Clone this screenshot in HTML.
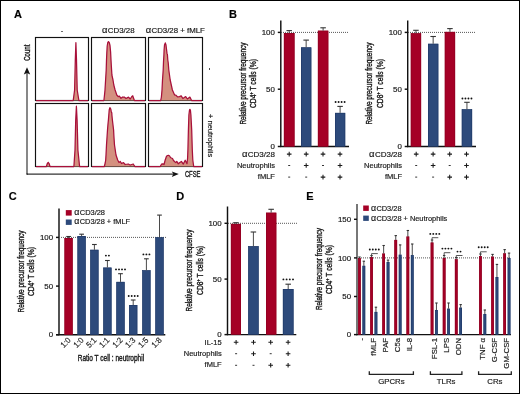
<!DOCTYPE html>
<html><head><meta charset="utf-8"><style>
html,body{margin:0;padding:0;background:#fff;}
svg{display:block;will-change:transform;}
text:not([stroke]){stroke:#1a1a1a;stroke-width:0.18px;}
</style></head><body>
<svg width="520" height="394" viewBox="0 0 520 394" font-family="'Liberation Sans', sans-serif">
<rect x="0" y="0" width="520" height="394" fill="#fff"/>
<rect x="0.5" y="0.5" width="519" height="393" fill="none" stroke="#000" stroke-width="1"/>
<text x="14" y="18.2" font-size="11" text-anchor="start" font-weight="bold" fill="#000" >A</text>
<text x="229" y="18.2" font-size="11" text-anchor="start" font-weight="bold" fill="#000" >B</text>
<text x="8.7" y="200.2" font-size="11" text-anchor="start" font-weight="bold" fill="#000" >C</text>
<text x="176.2" y="200.2" font-size="11" text-anchor="start" font-weight="bold" fill="#000" >D</text>
<text x="306.3" y="200.2" font-size="11" text-anchor="start" font-weight="bold" fill="#000" >E</text>
<rect x="35.5" y="37.5" width="53.00" height="63.00" fill="#fff" stroke="#111" stroke-width="1.15"/>
<path d="M73.20,100.50 L74.60,90.00 L75.30,60.00 L75.90,42.70 L76.50,60.00 L77.20,90.00 L78.90,100.50 Z" fill="#d4907f" stroke="none"/>
<path d="M36.10,100.50 L73.20,100.50 L74.60,90.00 L75.30,60.00 L75.90,42.70 L76.50,60.00 L77.20,90.00 L78.90,100.50 L87.90,100.50" fill="none" stroke="#a8103a" stroke-width="1.25" stroke-linejoin="round"/>
<rect x="91.5" y="37.5" width="54.00" height="63.00" fill="#fff" stroke="#111" stroke-width="1.15"/>
<path d="M103.90,100.50 L104.60,94.00 L105.00,90.00 L105.60,80.00 L106.20,70.00 L106.50,60.00 L106.80,53.00 L107.20,46.00 L107.80,42.50 L108.50,41.60 L109.30,42.60 L110.00,45.50 L110.60,52.00 L111.00,60.00 L111.40,67.00 L111.90,75.00 L113.00,80.00 L113.80,85.00 L115.10,90.00 L116.80,95.00 L118.20,96.60 L119.40,96.20 L121.00,98.30 L122.60,97.00 L124.30,97.10 L126.00,98.50 L128.50,97.10 L130.20,99.00 L131.50,97.00 L132.70,95.80 L134.40,100.50 Z" fill="#d4907f" stroke="none"/>
<path d="M92.10,100.50 L103.90,100.50 L104.60,94.00 L105.00,90.00 L105.60,80.00 L106.20,70.00 L106.50,60.00 L106.80,53.00 L107.20,46.00 L107.80,42.50 L108.50,41.60 L109.30,42.60 L110.00,45.50 L110.60,52.00 L111.00,60.00 L111.40,67.00 L111.90,75.00 L113.00,80.00 L113.80,85.00 L115.10,90.00 L116.80,95.00 L118.20,96.60 L119.40,96.20 L121.00,98.30 L122.60,97.00 L124.30,97.10 L126.00,98.50 L128.50,97.10 L130.20,99.00 L131.50,97.00 L132.70,95.80 L134.40,100.50 L144.90,100.50" fill="none" stroke="#a8103a" stroke-width="1.25" stroke-linejoin="round"/>
<rect x="148.5" y="37.5" width="54.00" height="63.00" fill="#fff" stroke="#111" stroke-width="1.15"/>
<path d="M160.70,100.50 L161.40,97.00 L162.00,90.00 L162.50,80.00 L163.20,70.00 L163.50,62.00 L163.90,55.00 L164.10,50.00 L164.50,45.00 L165.30,42.90 L166.00,45.00 L166.60,50.00 L167.00,53.40 L167.40,54.50 L167.80,60.00 L168.20,62.50 L168.80,70.00 L170.20,80.00 L172.40,90.00 L174.60,95.00 L175.90,95.20 L177.60,96.90 L179.50,96.60 L181.20,95.80 L182.90,98.50 L185.70,96.60 L187.40,99.00 L189.90,97.10 L191.60,100.50 Z" fill="#d4907f" stroke="none"/>
<path d="M149.10,100.50 L160.70,100.50 L161.40,97.00 L162.00,90.00 L162.50,80.00 L163.20,70.00 L163.50,62.00 L163.90,55.00 L164.10,50.00 L164.50,45.00 L165.30,42.90 L166.00,45.00 L166.60,50.00 L167.00,53.40 L167.40,54.50 L167.80,60.00 L168.20,62.50 L168.80,70.00 L170.20,80.00 L172.40,90.00 L174.60,95.00 L175.90,95.20 L177.60,96.90 L179.50,96.60 L181.20,95.80 L182.90,98.50 L185.70,96.60 L187.40,99.00 L189.90,97.10 L191.60,100.50 L201.90,100.50" fill="none" stroke="#a8103a" stroke-width="1.25" stroke-linejoin="round"/>
<rect x="35.5" y="103.5" width="53.00" height="63.00" fill="#fff" stroke="#111" stroke-width="1.15"/>
<path d="M46.40,166.50 L47.30,163.50 L48.20,162.30 L49.10,163.50 L50.00,166.50 L73.90,166.50 L75.00,150.00 L75.70,120.00 L76.40,106.20 L77.10,120.00 L77.90,150.00 L79.60,166.50 Z" fill="#d4907f" stroke="none"/>
<path d="M36.10,166.50 L46.40,166.50 L47.30,163.50 L48.20,162.30 L49.10,163.50 L50.00,166.50 L73.90,166.50 L75.00,150.00 L75.70,120.00 L76.40,106.20 L77.10,120.00 L77.90,150.00 L79.60,166.50 L87.90,166.50" fill="none" stroke="#a8103a" stroke-width="1.25" stroke-linejoin="round"/>
<rect x="91.5" y="103.5" width="54.00" height="63.00" fill="#fff" stroke="#111" stroke-width="1.15"/>
<path d="M104.30,166.50 L105.20,163.00 L105.70,160.00 L106.00,155.00 L106.50,145.00 L107.10,136.00 L107.50,130.00 L107.90,125.00 L108.40,120.00 L108.80,115.00 L109.20,110.00 L109.90,107.60 L110.80,109.00 L111.30,112.00 L111.80,112.90 L111.90,115.00 L112.40,120.00 L113.00,125.00 L113.60,130.00 L113.90,136.00 L114.50,145.00 L116.00,155.00 L117.70,160.00 L119.00,162.50 L120.30,161.50 L121.50,163.50 L123.50,162.60 L125.20,164.50 L128.20,164.00 L130.20,165.00 L133.20,164.00 L134.90,166.50 Z" fill="#d4907f" stroke="none"/>
<path d="M92.10,166.50 L104.30,166.50 L105.20,163.00 L105.70,160.00 L106.00,155.00 L106.50,145.00 L107.10,136.00 L107.50,130.00 L107.90,125.00 L108.40,120.00 L108.80,115.00 L109.20,110.00 L109.90,107.60 L110.80,109.00 L111.30,112.00 L111.80,112.90 L111.90,115.00 L112.40,120.00 L113.00,125.00 L113.60,130.00 L113.90,136.00 L114.50,145.00 L116.00,155.00 L117.70,160.00 L119.00,162.50 L120.30,161.50 L121.50,163.50 L123.50,162.60 L125.20,164.50 L128.20,164.00 L130.20,165.00 L133.20,164.00 L134.90,166.50 L144.90,166.50" fill="none" stroke="#a8103a" stroke-width="1.25" stroke-linejoin="round"/>
<rect x="148.5" y="103.5" width="54.00" height="63.00" fill="#fff" stroke="#111" stroke-width="1.15"/>
<path d="M160.20,166.50 L161.50,164.20 L162.80,163.80 L164.00,164.50 L165.20,160.00 L166.50,156.20 L167.50,155.50 L168.50,155.30 L169.60,156.00 L170.50,157.50 L171.40,158.00 L172.50,158.50 L173.50,160.50 L174.80,161.80 L175.80,162.60 L176.80,161.40 L178.30,163.80 L179.80,162.50 L181.40,161.40 L183.30,164.10 L185.20,160.20 L187.00,163.70 L187.60,158.00 L187.90,150.00 L188.40,130.00 L188.90,115.00 L189.50,110.00 L189.90,109.30 L190.40,110.00 L190.90,115.00 L191.70,130.00 L192.30,150.00 L192.80,160.00 L193.70,166.50 Z" fill="#d4907f" stroke="none"/>
<path d="M149.10,166.50 L160.20,166.50 L161.50,164.20 L162.80,163.80 L164.00,164.50 L165.20,160.00 L166.50,156.20 L167.50,155.50 L168.50,155.30 L169.60,156.00 L170.50,157.50 L171.40,158.00 L172.50,158.50 L173.50,160.50 L174.80,161.80 L175.80,162.60 L176.80,161.40 L178.30,163.80 L179.80,162.50 L181.40,161.40 L183.30,164.10 L185.20,160.20 L187.00,163.70 L187.60,158.00 L187.90,150.00 L188.40,130.00 L188.90,115.00 L189.50,110.00 L189.90,109.30 L190.40,110.00 L190.90,115.00 L191.70,130.00 L192.30,150.00 L192.80,160.00 L193.70,166.50 L201.90,166.50" fill="none" stroke="#a8103a" stroke-width="1.25" stroke-linejoin="round"/>
<text x="62" y="32.5" font-size="7.5" text-anchor="middle" font-weight="normal" fill="#1a1a1a" >-</text>
<text x="118.3" y="33" font-size="7.9" text-anchor="middle" fill="#1a1a1a"><tspan font-size="9.48">&#945;</tspan><tspan dx="0.3">CD3/28</tspan></text>
<text x="175.3" y="33" font-size="7.85" text-anchor="middle" fill="#1a1a1a"><tspan font-size="9.42">&#945;</tspan><tspan dx="0.3">CD3/28 + fMLF</tspan></text>
<text transform="translate(207.6,69) rotate(90)" x="0" y="0" font-size="7.5" text-anchor="middle" font-weight="normal" fill="#1a1a1a">-</text>
<text transform="translate(207.6,135.6) rotate(90)" x="0" y="0" font-size="7.5" text-anchor="middle" font-weight="normal" fill="#1a1a1a">+ neutrophils</text>
<line x1="27" y1="174.1" x2="27" y2="73" stroke="#555" stroke-width="1.4" />
<path d="M27,67.2 L30.2,74.5 L27,73 L23.8,74.5 Z" fill="#111"/>
<line x1="27" y1="174.1" x2="173" y2="174.1" stroke="#333" stroke-width="1.4" />
<path d="M178.8,174.1 L171.8,171.4 L173.3,174.1 L171.8,176.9 Z" fill="#111"/>
<line x1="26.3" y1="174.1" x2="28" y2="174.1" stroke="#333" stroke-width="1.4" />
<text transform="translate(30.0,52.7) rotate(-90)" font-size="9" text-anchor="middle" fill="#1a1a1a" stroke="#1a1a1a" stroke-width="0.38" textLength="16.2" lengthAdjust="spacingAndGlyphs">Count</text>
<text x="184.9" y="176.6" font-size="9" textLength="15.6" lengthAdjust="spacingAndGlyphs" fill="#1a1a1a" stroke="#1a1a1a" stroke-width="0.38">CFSE</text>
<line x1="280.8" y1="20.5" x2="280.8" y2="147.1" stroke="#111" stroke-width="1.45" />
<line x1="280.2" y1="146.5" x2="349.0" y2="146.5" stroke="#111" stroke-width="1.45" />
<line x1="277.8" y1="32.4" x2="280.8" y2="32.4" stroke="#111" stroke-width="1.45" />
<text x="274.90000000000003" y="35.199999999999996" font-size="7.9" text-anchor="end" font-weight="normal" fill="#1a1a1a" >100</text>
<line x1="277.8" y1="89.2" x2="280.8" y2="89.2" stroke="#111" stroke-width="1.45" />
<text x="274.90000000000003" y="92.0" font-size="7.9" text-anchor="end" font-weight="normal" fill="#1a1a1a" >50</text>
<line x1="277.8" y1="146.5" x2="280.8" y2="146.5" stroke="#111" stroke-width="1.45" />
<text x="274.90000000000003" y="149.10000000000002" font-size="7.9" text-anchor="end" font-weight="normal" fill="#1a1a1a" >0</text>
<line x1="281" y1="32.4" x2="349.0" y2="32.4" stroke="#444" stroke-width="0.9" stroke-dasharray="1 1"/>
<rect x="283.90" y="33.00" width="10.60" height="113.50" fill="#a50026" stroke="none" stroke-width="0"/>
<rect x="284.20" y="33.30" width="10.00" height="113.20" fill="none" stroke="#8c0020" stroke-width="0.6"/>
<line x1="289.2" y1="33.0" x2="289.2" y2="30.6" stroke="#4a4a4a" stroke-width="1.0" />
<line x1="286.45" y1="30.6" x2="291.95" y2="30.6" stroke="#333" stroke-width="1.1" />
<rect x="301.00" y="47.40" width="10.30" height="99.10" fill="#2d4a7b" stroke="none" stroke-width="0"/>
<rect x="301.30" y="47.70" width="9.70" height="98.80" fill="none" stroke="#1e3866" stroke-width="0.6"/>
<line x1="306.15" y1="47.4" x2="306.15" y2="40.1" stroke="#4a4a4a" stroke-width="1.0" />
<line x1="303.4" y1="40.1" x2="308.9" y2="40.1" stroke="#333" stroke-width="1.1" />
<rect x="317.90" y="30.70" width="10.40" height="115.80" fill="#a50026" stroke="none" stroke-width="0"/>
<rect x="318.20" y="31.00" width="9.80" height="115.50" fill="none" stroke="#8c0020" stroke-width="0.6"/>
<line x1="323.1" y1="30.7" x2="323.1" y2="27.8" stroke="#4a4a4a" stroke-width="1.0" />
<line x1="320.35" y1="27.8" x2="325.85" y2="27.8" stroke="#333" stroke-width="1.1" />
<rect x="335.00" y="112.90" width="10.20" height="33.60" fill="#2d4a7b" stroke="none" stroke-width="0"/>
<rect x="335.30" y="113.20" width="9.60" height="33.30" fill="none" stroke="#1e3866" stroke-width="0.6"/>
<line x1="340.1" y1="112.9" x2="340.1" y2="106.4" stroke="#4a4a4a" stroke-width="1.0" />
<line x1="337.35" y1="106.4" x2="342.85" y2="106.4" stroke="#333" stroke-width="1.1" />
<circle cx="335.60" cy="102.0" r="0.95" fill="#111"/>
<circle cx="338.60" cy="102.0" r="0.95" fill="#111"/>
<circle cx="341.60" cy="102.0" r="0.95" fill="#111"/>
<circle cx="344.60" cy="102.0" r="0.95" fill="#111"/>
<text transform="translate(245.7,83.6) rotate(-90)" font-size="8.6" text-anchor="middle" fill="#1a1a1a" stroke="#1a1a1a" stroke-width="0.38" textLength="82" lengthAdjust="spacingAndGlyphs">Relative precursor frequency</text>
<text transform="translate(256.0,83.5) rotate(-90)" font-size="8.6" text-anchor="middle" fill="#1a1a1a" stroke="#1a1a1a" stroke-width="0.38" textLength="49" lengthAdjust="spacingAndGlyphs">CD4<tspan font-size="5" dy="-3">+</tspan><tspan dy="3"> T cells (%)</tspan></text>
<text x="274.9" y="156.8" font-size="8.0" text-anchor="end" fill="#1a1a1a"><tspan font-size="9.60">&#945;</tspan><tspan dx="0.3">CD3/28</tspan></text>
<text x="274.9" y="167.6" font-size="7.5" text-anchor="end" font-weight="normal" fill="#1a1a1a" >Neutrophils</text>
<text x="274.9" y="179.0" font-size="7.5" text-anchor="end" font-weight="normal" fill="#1a1a1a" >fMLF</text>
<path d="M286.90,154.10 H291.50 M289.20,151.80 V156.40" stroke="#1a1a1a" stroke-width="1.05" fill="none"/>
<path d="M303.90,154.10 H308.50 M306.20,151.80 V156.40" stroke="#1a1a1a" stroke-width="1.05" fill="none"/>
<path d="M320.70,154.10 H325.30 M323.00,151.80 V156.40" stroke="#1a1a1a" stroke-width="1.05" fill="none"/>
<path d="M337.70,154.10 H342.30 M340.00,151.80 V156.40" stroke="#1a1a1a" stroke-width="1.05" fill="none"/>
<path d="M288.20,165.50 H290.20" stroke="#2a2a2a" stroke-width="0.95" fill="none"/>
<path d="M303.90,165.50 H308.50 M306.20,163.20 V167.80" stroke="#1a1a1a" stroke-width="1.05" fill="none"/>
<path d="M322.00,165.50 H324.00" stroke="#2a2a2a" stroke-width="0.95" fill="none"/>
<path d="M337.70,165.50 H342.30 M340.00,163.20 V167.80" stroke="#1a1a1a" stroke-width="1.05" fill="none"/>
<path d="M288.20,177.10 H290.20" stroke="#2a2a2a" stroke-width="0.95" fill="none"/>
<path d="M305.20,177.10 H307.20" stroke="#2a2a2a" stroke-width="0.95" fill="none"/>
<path d="M320.70,177.10 H325.30 M323.00,174.80 V179.40" stroke="#1a1a1a" stroke-width="1.05" fill="none"/>
<path d="M337.70,177.10 H342.30 M340.00,174.80 V179.40" stroke="#1a1a1a" stroke-width="1.05" fill="none"/>
<line x1="407.7" y1="20.5" x2="407.7" y2="147.1" stroke="#111" stroke-width="1.45" />
<line x1="407.09999999999997" y1="146.5" x2="476.0" y2="146.5" stroke="#111" stroke-width="1.45" />
<line x1="404.7" y1="32.4" x2="407.7" y2="32.4" stroke="#111" stroke-width="1.45" />
<text x="401.8" y="35.199999999999996" font-size="7.9" text-anchor="end" font-weight="normal" fill="#1a1a1a" >100</text>
<line x1="404.7" y1="89.2" x2="407.7" y2="89.2" stroke="#111" stroke-width="1.45" />
<text x="401.8" y="92.0" font-size="7.9" text-anchor="end" font-weight="normal" fill="#1a1a1a" >50</text>
<line x1="404.7" y1="146.5" x2="407.7" y2="146.5" stroke="#111" stroke-width="1.45" />
<text x="401.8" y="149.10000000000002" font-size="7.9" text-anchor="end" font-weight="normal" fill="#1a1a1a" >0</text>
<line x1="408" y1="32.4" x2="476.0" y2="32.4" stroke="#444" stroke-width="0.9" stroke-dasharray="1 1"/>
<rect x="410.80" y="33.20" width="10.30" height="113.30" fill="#a50026" stroke="none" stroke-width="0"/>
<rect x="411.10" y="33.50" width="9.70" height="113.00" fill="none" stroke="#8c0020" stroke-width="0.6"/>
<line x1="415.95000000000005" y1="33.2" x2="415.95000000000005" y2="30.3" stroke="#4a4a4a" stroke-width="1.0" />
<line x1="413.20000000000005" y1="30.3" x2="418.70000000000005" y2="30.3" stroke="#333" stroke-width="1.1" />
<rect x="428.00" y="43.80" width="10.30" height="102.70" fill="#2d4a7b" stroke="none" stroke-width="0"/>
<rect x="428.30" y="44.10" width="9.70" height="102.40" fill="none" stroke="#1e3866" stroke-width="0.6"/>
<line x1="433.15" y1="43.8" x2="433.15" y2="36.5" stroke="#4a4a4a" stroke-width="1.0" />
<line x1="430.4" y1="36.5" x2="435.9" y2="36.5" stroke="#333" stroke-width="1.1" />
<rect x="444.80" y="31.90" width="10.30" height="114.60" fill="#a50026" stroke="none" stroke-width="0"/>
<rect x="445.10" y="32.20" width="9.70" height="114.30" fill="none" stroke="#8c0020" stroke-width="0.6"/>
<line x1="449.95000000000005" y1="31.9" x2="449.95000000000005" y2="28.6" stroke="#4a4a4a" stroke-width="1.0" />
<line x1="447.20000000000005" y1="28.6" x2="452.70000000000005" y2="28.6" stroke="#333" stroke-width="1.1" />
<rect x="461.80" y="109.30" width="10.30" height="37.20" fill="#2d4a7b" stroke="none" stroke-width="0"/>
<rect x="462.10" y="109.60" width="9.70" height="36.90" fill="none" stroke="#1e3866" stroke-width="0.6"/>
<line x1="466.95000000000005" y1="109.3" x2="466.95000000000005" y2="102.3" stroke="#4a4a4a" stroke-width="1.0" />
<line x1="464.20000000000005" y1="102.3" x2="469.70000000000005" y2="102.3" stroke="#333" stroke-width="1.1" />
<circle cx="462.45" cy="98.5" r="0.95" fill="#111"/>
<circle cx="465.45" cy="98.5" r="0.95" fill="#111"/>
<circle cx="468.45" cy="98.5" r="0.95" fill="#111"/>
<circle cx="471.45" cy="98.5" r="0.95" fill="#111"/>
<text transform="translate(372.0,83.6) rotate(-90)" font-size="8.6" text-anchor="middle" fill="#1a1a1a" stroke="#1a1a1a" stroke-width="0.38" textLength="82" lengthAdjust="spacingAndGlyphs">Relative precursor frequency</text>
<text transform="translate(382.5,83.5) rotate(-90)" font-size="8.6" text-anchor="middle" fill="#1a1a1a" stroke="#1a1a1a" stroke-width="0.38" textLength="49" lengthAdjust="spacingAndGlyphs">CD8<tspan font-size="5" dy="-3">+</tspan><tspan dy="3"> T cells (%)</tspan></text>
<text x="402.0" y="156.8" font-size="8.0" text-anchor="end" fill="#1a1a1a"><tspan font-size="9.60">&#945;</tspan><tspan dx="0.3">CD3/28</tspan></text>
<text x="402.0" y="167.6" font-size="7.5" text-anchor="end" font-weight="normal" fill="#1a1a1a" >Neutrophils</text>
<text x="402.0" y="179.0" font-size="7.5" text-anchor="end" font-weight="normal" fill="#1a1a1a" >fMLF</text>
<path d="M413.90,154.10 H418.50 M416.20,151.80 V156.40" stroke="#1a1a1a" stroke-width="1.05" fill="none"/>
<path d="M430.80,154.10 H435.40 M433.10,151.80 V156.40" stroke="#1a1a1a" stroke-width="1.05" fill="none"/>
<path d="M447.40,154.10 H452.00 M449.70,151.80 V156.40" stroke="#1a1a1a" stroke-width="1.05" fill="none"/>
<path d="M464.20,154.10 H468.80 M466.50,151.80 V156.40" stroke="#1a1a1a" stroke-width="1.05" fill="none"/>
<path d="M415.20,165.50 H417.20" stroke="#2a2a2a" stroke-width="0.95" fill="none"/>
<path d="M430.80,165.50 H435.40 M433.10,163.20 V167.80" stroke="#1a1a1a" stroke-width="1.05" fill="none"/>
<path d="M448.70,165.50 H450.70" stroke="#2a2a2a" stroke-width="0.95" fill="none"/>
<path d="M464.20,165.50 H468.80 M466.50,163.20 V167.80" stroke="#1a1a1a" stroke-width="1.05" fill="none"/>
<path d="M415.20,177.10 H417.20" stroke="#2a2a2a" stroke-width="0.95" fill="none"/>
<path d="M432.10,177.10 H434.10" stroke="#2a2a2a" stroke-width="0.95" fill="none"/>
<path d="M447.40,177.10 H452.00 M449.70,174.80 V179.40" stroke="#1a1a1a" stroke-width="1.05" fill="none"/>
<path d="M464.20,177.10 H468.80 M466.50,174.80 V179.40" stroke="#1a1a1a" stroke-width="1.05" fill="none"/>
<line x1="59.0" y1="208.5" x2="59.0" y2="335.3" stroke="#111" stroke-width="1.45" />
<line x1="56.2" y1="334.7" x2="165.3" y2="334.7" stroke="#111" stroke-width="1.45" />
<line x1="56.0" y1="237.4" x2="59.0" y2="237.4" stroke="#111" stroke-width="1.45" />
<text x="53.1" y="240.20000000000002" font-size="7.9" text-anchor="end" font-weight="normal" fill="#1a1a1a" >100</text>
<line x1="56.0" y1="286.1" x2="59.0" y2="286.1" stroke="#111" stroke-width="1.45" />
<text x="53.1" y="288.90000000000003" font-size="7.9" text-anchor="end" font-weight="normal" fill="#1a1a1a" >50</text>
<line x1="56.0" y1="334.7" x2="59.0" y2="334.7" stroke="#111" stroke-width="1.45" />
<text x="53.1" y="337.3" font-size="7.9" text-anchor="end" font-weight="normal" fill="#1a1a1a" >0</text>
<line x1="61" y1="237.4" x2="166.6" y2="237.4" stroke="#444" stroke-width="0.9" stroke-dasharray="1 1"/>
<rect x="64.50" y="238.00" width="8.20" height="96.70" fill="#a50026" stroke="none" stroke-width="0"/>
<rect x="64.80" y="238.30" width="7.60" height="96.40" fill="none" stroke="#8c0020" stroke-width="0.6"/>
<line x1="68.6" y1="238.0" x2="68.6" y2="236.5" stroke="#4a4a4a" stroke-width="1.0" />
<line x1="66.25" y1="236.5" x2="70.94999999999999" y2="236.5" stroke="#333" stroke-width="1.1" />
<rect x="77.50" y="236.00" width="8.20" height="98.70" fill="#2d4a7b" stroke="none" stroke-width="0"/>
<rect x="77.80" y="236.30" width="7.60" height="98.40" fill="none" stroke="#1e3866" stroke-width="0.6"/>
<line x1="81.6" y1="236.0" x2="81.6" y2="234.2" stroke="#4a4a4a" stroke-width="1.0" />
<line x1="79.25" y1="234.2" x2="83.94999999999999" y2="234.2" stroke="#333" stroke-width="1.1" />
<rect x="90.30" y="249.80" width="8.20" height="84.90" fill="#2d4a7b" stroke="none" stroke-width="0"/>
<rect x="90.60" y="250.10" width="7.60" height="84.60" fill="none" stroke="#1e3866" stroke-width="0.6"/>
<line x1="94.4" y1="249.8" x2="94.4" y2="244.5" stroke="#4a4a4a" stroke-width="1.0" />
<line x1="92.05000000000001" y1="244.5" x2="96.75" y2="244.5" stroke="#333" stroke-width="1.1" />
<rect x="103.30" y="267.60" width="8.20" height="67.10" fill="#2d4a7b" stroke="none" stroke-width="0"/>
<rect x="103.60" y="267.90" width="7.60" height="66.80" fill="none" stroke="#1e3866" stroke-width="0.6"/>
<line x1="107.4" y1="267.6" x2="107.4" y2="260.5" stroke="#4a4a4a" stroke-width="1.0" />
<line x1="105.05000000000001" y1="260.5" x2="109.75" y2="260.5" stroke="#333" stroke-width="1.1" />
<circle cx="105.90" cy="255.6" r="0.95" fill="#111"/>
<circle cx="108.90" cy="255.6" r="0.95" fill="#111"/>
<rect x="116.40" y="281.90" width="8.20" height="52.80" fill="#2d4a7b" stroke="none" stroke-width="0"/>
<rect x="116.70" y="282.20" width="7.60" height="52.50" fill="none" stroke="#1e3866" stroke-width="0.6"/>
<line x1="120.5" y1="281.9" x2="120.5" y2="273.7" stroke="#4a4a4a" stroke-width="1.0" />
<line x1="118.15" y1="273.7" x2="122.85" y2="273.7" stroke="#333" stroke-width="1.1" />
<circle cx="116.00" cy="269.4" r="0.95" fill="#111"/>
<circle cx="119.00" cy="269.4" r="0.95" fill="#111"/>
<circle cx="122.00" cy="269.4" r="0.95" fill="#111"/>
<circle cx="125.00" cy="269.4" r="0.95" fill="#111"/>
<rect x="129.10" y="305.00" width="8.20" height="29.70" fill="#2d4a7b" stroke="none" stroke-width="0"/>
<rect x="129.40" y="305.30" width="7.60" height="29.40" fill="none" stroke="#1e3866" stroke-width="0.6"/>
<line x1="133.2" y1="305.0" x2="133.2" y2="300.0" stroke="#4a4a4a" stroke-width="1.0" />
<line x1="130.85" y1="300.0" x2="135.54999999999998" y2="300.0" stroke="#333" stroke-width="1.1" />
<circle cx="128.70" cy="296.0" r="0.95" fill="#111"/>
<circle cx="131.70" cy="296.0" r="0.95" fill="#111"/>
<circle cx="134.70" cy="296.0" r="0.95" fill="#111"/>
<circle cx="137.70" cy="296.0" r="0.95" fill="#111"/>
<rect x="142.30" y="270.30" width="8.20" height="64.40" fill="#2d4a7b" stroke="none" stroke-width="0"/>
<rect x="142.60" y="270.60" width="7.60" height="64.10" fill="none" stroke="#1e3866" stroke-width="0.6"/>
<line x1="146.4" y1="270.3" x2="146.4" y2="258.8" stroke="#4a4a4a" stroke-width="1.0" />
<line x1="144.05" y1="258.8" x2="148.75" y2="258.8" stroke="#333" stroke-width="1.1" />
<circle cx="143.40" cy="254.4" r="0.95" fill="#111"/>
<circle cx="146.40" cy="254.4" r="0.95" fill="#111"/>
<circle cx="149.40" cy="254.4" r="0.95" fill="#111"/>
<rect x="155.40" y="237.30" width="8.20" height="97.40" fill="#2d4a7b" stroke="none" stroke-width="0"/>
<rect x="155.70" y="237.60" width="7.60" height="97.10" fill="none" stroke="#1e3866" stroke-width="0.6"/>
<line x1="159.5" y1="237.3" x2="159.5" y2="215.1" stroke="#4a4a4a" stroke-width="1.0" />
<line x1="157.15" y1="215.1" x2="161.85" y2="215.1" stroke="#333" stroke-width="1.1" />
<text transform="translate(71.3,340.7) rotate(-45)" font-size="8.2" text-anchor="end" fill="#1a1a1a" stroke="#1a1a1a" stroke-width="0.15" textLength="10.6" lengthAdjust="spacingAndGlyphs">1:0</text>
<text transform="translate(84.3,340.7) rotate(-45)" font-size="8.2" text-anchor="end" fill="#1a1a1a" stroke="#1a1a1a" stroke-width="0.15" textLength="10.6" lengthAdjust="spacingAndGlyphs">1:0</text>
<text transform="translate(97.10000000000001,340.7) rotate(-45)" font-size="8.2" text-anchor="end" fill="#1a1a1a" stroke="#1a1a1a" stroke-width="0.15" textLength="10.6" lengthAdjust="spacingAndGlyphs">5:1</text>
<text transform="translate(110.10000000000001,340.7) rotate(-45)" font-size="8.2" text-anchor="end" fill="#1a1a1a" stroke="#1a1a1a" stroke-width="0.15" textLength="10.6" lengthAdjust="spacingAndGlyphs">1:1</text>
<text transform="translate(123.2,340.7) rotate(-45)" font-size="8.2" text-anchor="end" fill="#1a1a1a" stroke="#1a1a1a" stroke-width="0.15" textLength="10.6" lengthAdjust="spacingAndGlyphs">1:2</text>
<text transform="translate(135.89999999999998,340.7) rotate(-45)" font-size="8.2" text-anchor="end" fill="#1a1a1a" stroke="#1a1a1a" stroke-width="0.15" textLength="10.6" lengthAdjust="spacingAndGlyphs">1:3</text>
<text transform="translate(149.1,340.7) rotate(-45)" font-size="8.2" text-anchor="end" fill="#1a1a1a" stroke="#1a1a1a" stroke-width="0.15" textLength="10.6" lengthAdjust="spacingAndGlyphs">1:5</text>
<text transform="translate(162.2,340.7) rotate(-45)" font-size="8.2" text-anchor="end" fill="#1a1a1a" stroke="#1a1a1a" stroke-width="0.15" textLength="10.6" lengthAdjust="spacingAndGlyphs">1:8</text>
<rect x="65.80" y="210.10" width="5.90" height="5.50" fill="#a50026" stroke="none" stroke-width="0"/>
<rect x="65.80" y="219.50" width="5.90" height="5.40" fill="#2d4a7b" stroke="none" stroke-width="0"/>
<text x="74.3" y="215.0" font-size="7.45" text-anchor="start" fill="#1a1a1a"><tspan font-size="8.94">&#945;</tspan><tspan dx="0.3">CD3/28</tspan></text>
<text x="74.3" y="224.3" font-size="7.4" text-anchor="start" fill="#1a1a1a"><tspan font-size="8.88">&#945;</tspan><tspan dx="0.3">CD3/28 + fMLF</tspan></text>
<text x="77.7" y="360.7" font-size="8.7" textLength="66.4" lengthAdjust="spacingAndGlyphs" fill="#1a1a1a" stroke="#1a1a1a" stroke-width="0.38">Ratio T cell : neutrophil</text>
<text transform="translate(23.6,271.5) rotate(-90)" font-size="8.6" text-anchor="middle" fill="#1a1a1a" stroke="#1a1a1a" stroke-width="0.38" textLength="82" lengthAdjust="spacingAndGlyphs">Relative precursor frequency</text>
<text transform="translate(34.0,271.6) rotate(-90)" font-size="8.6" text-anchor="middle" fill="#1a1a1a" stroke="#1a1a1a" stroke-width="0.38" textLength="49" lengthAdjust="spacingAndGlyphs">CD4<tspan font-size="5" dy="-3">+</tspan><tspan dy="3"> T cells (%)</tspan></text>
<line x1="227.5" y1="206.5" x2="227.5" y2="335.20000000000005" stroke="#111" stroke-width="1.45" />
<line x1="226.9" y1="334.6" x2="296.3" y2="334.6" stroke="#111" stroke-width="1.45" />
<line x1="224.5" y1="223.3" x2="227.5" y2="223.3" stroke="#111" stroke-width="1.45" />
<text x="221.6" y="226.10000000000002" font-size="7.9" text-anchor="end" font-weight="normal" fill="#1a1a1a" >100</text>
<line x1="224.5" y1="279.1" x2="227.5" y2="279.1" stroke="#111" stroke-width="1.45" />
<text x="221.6" y="281.90000000000003" font-size="7.9" text-anchor="end" font-weight="normal" fill="#1a1a1a" >50</text>
<line x1="224.5" y1="334.6" x2="227.5" y2="334.6" stroke="#111" stroke-width="1.45" />
<text x="221.6" y="337.20000000000005" font-size="7.9" text-anchor="end" font-weight="normal" fill="#1a1a1a" >0</text>
<line x1="228" y1="223.3" x2="297.7" y2="223.3" stroke="#444" stroke-width="0.9" stroke-dasharray="1 1"/>
<rect x="230.90" y="223.90" width="10.10" height="110.70" fill="#a50026" stroke="none" stroke-width="0"/>
<rect x="231.20" y="224.20" width="9.50" height="110.40" fill="none" stroke="#8c0020" stroke-width="0.6"/>
<line x1="235.95" y1="223.9" x2="235.95" y2="222.7" stroke="#4a4a4a" stroke-width="1.0" />
<line x1="233.2" y1="222.7" x2="238.7" y2="222.7" stroke="#333" stroke-width="1.1" />
<rect x="248.20" y="246.20" width="10.40" height="88.40" fill="#2d4a7b" stroke="none" stroke-width="0"/>
<rect x="248.50" y="246.50" width="9.80" height="88.10" fill="none" stroke="#1e3866" stroke-width="0.6"/>
<line x1="253.4" y1="246.2" x2="253.4" y2="232.0" stroke="#4a4a4a" stroke-width="1.0" />
<line x1="250.65" y1="232.0" x2="256.15" y2="232.0" stroke="#333" stroke-width="1.1" />
<rect x="266.00" y="212.70" width="10.30" height="121.90" fill="#a50026" stroke="none" stroke-width="0"/>
<rect x="266.30" y="213.00" width="9.70" height="121.60" fill="none" stroke="#8c0020" stroke-width="0.6"/>
<line x1="271.15" y1="212.7" x2="271.15" y2="209.3" stroke="#4a4a4a" stroke-width="1.0" />
<line x1="268.4" y1="209.3" x2="273.9" y2="209.3" stroke="#333" stroke-width="1.1" />
<rect x="282.90" y="289.00" width="10.60" height="45.60" fill="#2d4a7b" stroke="none" stroke-width="0"/>
<rect x="283.20" y="289.30" width="10.00" height="45.30" fill="none" stroke="#1e3866" stroke-width="0.6"/>
<line x1="288.2" y1="289.0" x2="288.2" y2="284.2" stroke="#4a4a4a" stroke-width="1.0" />
<line x1="285.45" y1="284.2" x2="290.95" y2="284.2" stroke="#333" stroke-width="1.1" />
<circle cx="283.40" cy="279.4" r="0.95" fill="#111"/>
<circle cx="286.60" cy="279.4" r="0.95" fill="#111"/>
<circle cx="289.80" cy="279.4" r="0.95" fill="#111"/>
<circle cx="293.00" cy="279.4" r="0.95" fill="#111"/>
<text x="221.7" y="344.6" font-size="7.5" text-anchor="end" font-weight="normal" fill="#1a1a1a" >IL-15</text>
<text x="221.7" y="355.7" font-size="7.5" text-anchor="end" font-weight="normal" fill="#1a1a1a" >Neutrophils</text>
<text x="221.7" y="366.7" font-size="7.5" text-anchor="end" font-weight="normal" fill="#1a1a1a" >fMLF</text>
<path d="M233.80,342.20 H238.40 M236.10,339.90 V344.50" stroke="#1a1a1a" stroke-width="1.05" fill="none"/>
<path d="M251.20,342.20 H255.80 M253.50,339.90 V344.50" stroke="#1a1a1a" stroke-width="1.05" fill="none"/>
<path d="M268.40,342.20 H273.00 M270.70,339.90 V344.50" stroke="#1a1a1a" stroke-width="1.05" fill="none"/>
<path d="M285.80,342.20 H290.40 M288.10,339.90 V344.50" stroke="#1a1a1a" stroke-width="1.05" fill="none"/>
<path d="M235.10,353.70 H237.10" stroke="#2a2a2a" stroke-width="0.95" fill="none"/>
<path d="M251.20,353.70 H255.80 M253.50,351.40 V356.00" stroke="#1a1a1a" stroke-width="1.05" fill="none"/>
<path d="M269.70,353.70 H271.70" stroke="#2a2a2a" stroke-width="0.95" fill="none"/>
<path d="M285.80,353.70 H290.40 M288.10,351.40 V356.00" stroke="#1a1a1a" stroke-width="1.05" fill="none"/>
<path d="M235.10,365.30 H237.10" stroke="#2a2a2a" stroke-width="0.95" fill="none"/>
<path d="M252.50,365.30 H254.50" stroke="#2a2a2a" stroke-width="0.95" fill="none"/>
<path d="M268.40,365.30 H273.00 M270.70,363.00 V367.60" stroke="#1a1a1a" stroke-width="1.05" fill="none"/>
<path d="M285.80,365.30 H290.40 M288.10,363.00 V367.60" stroke="#1a1a1a" stroke-width="1.05" fill="none"/>
<text transform="translate(192.0,270.5) rotate(-90)" font-size="8.6" text-anchor="middle" fill="#1a1a1a" stroke="#1a1a1a" stroke-width="0.38" textLength="82" lengthAdjust="spacingAndGlyphs">Relative precursor frequency</text>
<text transform="translate(202.5,270.4) rotate(-90)" font-size="8.6" text-anchor="middle" fill="#1a1a1a" stroke="#1a1a1a" stroke-width="0.38" textLength="49" lengthAdjust="spacingAndGlyphs">CD8<tspan font-size="5" dy="-3">+</tspan><tspan dy="3"> T cells (%)</tspan></text>
<line x1="357.0" y1="204.1" x2="357.0" y2="335.20000000000005" stroke="#555" stroke-width="1.6" />
<line x1="356.4" y1="334.6" x2="511.0" y2="334.6" stroke="#111" stroke-width="1.45" />
<line x1="354.0" y1="219.3" x2="357.0" y2="219.3" stroke="#111" stroke-width="1.45" />
<text x="351.1" y="222.10000000000002" font-size="7.9" text-anchor="end" font-weight="normal" fill="#1a1a1a" >150</text>
<line x1="354.0" y1="257.9" x2="357.0" y2="257.9" stroke="#111" stroke-width="1.45" />
<text x="351.1" y="260.7" font-size="7.9" text-anchor="end" font-weight="normal" fill="#1a1a1a" >100</text>
<line x1="354.0" y1="296.5" x2="357.0" y2="296.5" stroke="#111" stroke-width="1.45" />
<text x="351.1" y="299.3" font-size="7.9" text-anchor="end" font-weight="normal" fill="#1a1a1a" >50</text>
<line x1="354.0" y1="334.6" x2="357.0" y2="334.6" stroke="#111" stroke-width="1.45" />
<text x="351.1" y="337.20000000000005" font-size="7.9" text-anchor="end" font-weight="normal" fill="#1a1a1a" >0</text>
<line x1="359" y1="257.9" x2="510.5" y2="257.9" stroke="#444" stroke-width="0.9" stroke-dasharray="1 1"/>
<rect x="358.10" y="258.20" width="2.70" height="76.40" fill="#a50026" stroke="none" stroke-width="0"/>
<rect x="358.40" y="258.50" width="2.10" height="76.10" fill="none" stroke="#8c0020" stroke-width="0.6"/>
<line x1="359.45000000000005" y1="258.2" x2="359.45000000000005" y2="257.0" stroke="#4a4a4a" stroke-width="1.0" />
<line x1="358.25000000000006" y1="257.0" x2="360.65000000000003" y2="257.0" stroke="#333" stroke-width="1.1" />
<rect x="362.50" y="265.80" width="2.70" height="68.80" fill="#2d4a7b" stroke="none" stroke-width="0"/>
<rect x="362.80" y="266.10" width="2.10" height="68.50" fill="none" stroke="#1e3866" stroke-width="0.6"/>
<line x1="363.85" y1="265.8" x2="363.85" y2="261.2" stroke="#4a4a4a" stroke-width="1.0" />
<line x1="362.65000000000003" y1="261.2" x2="365.05" y2="261.2" stroke="#333" stroke-width="1.1" />
<text transform="translate(363.90,337.9) rotate(-90)" font-size="7.8" text-anchor="end" fill="#1a1a1a">-</text>
<rect x="370.20" y="257.10" width="2.70" height="77.50" fill="#a50026" stroke="none" stroke-width="0"/>
<rect x="370.50" y="257.40" width="2.10" height="77.20" fill="none" stroke="#8c0020" stroke-width="0.6"/>
<line x1="371.55000000000007" y1="257.1" x2="371.55000000000007" y2="255.6" stroke="#4a4a4a" stroke-width="1.0" />
<line x1="370.3500000000001" y1="255.6" x2="372.75000000000006" y2="255.6" stroke="#333" stroke-width="1.1" />
<rect x="374.60" y="311.90" width="2.70" height="22.70" fill="#2d4a7b" stroke="none" stroke-width="0"/>
<rect x="374.90" y="312.20" width="2.10" height="22.40" fill="none" stroke="#1e3866" stroke-width="0.6"/>
<line x1="375.95000000000005" y1="311.9" x2="375.95000000000005" y2="307.2" stroke="#4a4a4a" stroke-width="1.0" />
<line x1="374.75000000000006" y1="307.2" x2="377.15000000000003" y2="307.2" stroke="#333" stroke-width="1.1" />
<circle cx="369.80" cy="249.5" r="0.95" fill="#111"/>
<circle cx="372.80" cy="249.5" r="0.95" fill="#111"/>
<circle cx="375.80" cy="249.5" r="0.95" fill="#111"/>
<circle cx="378.80" cy="249.5" r="0.95" fill="#111"/>
<path d="M371.55,255.60 V253.60 H377.80" fill="none" stroke="#444" stroke-width="0.9"/>
<text transform="translate(376.00,337.9) rotate(-90)" font-size="7.8" text-anchor="end" fill="#1a1a1a">fMLF</text>
<rect x="382.30" y="253.60" width="2.70" height="81.00" fill="#a50026" stroke="none" stroke-width="0"/>
<rect x="382.60" y="253.90" width="2.10" height="80.70" fill="none" stroke="#8c0020" stroke-width="0.6"/>
<line x1="383.65" y1="253.6" x2="383.65" y2="245.5" stroke="#4a4a4a" stroke-width="1.0" />
<line x1="382.45" y1="245.5" x2="384.84999999999997" y2="245.5" stroke="#333" stroke-width="1.1" />
<rect x="386.70" y="262.00" width="2.70" height="72.60" fill="#2d4a7b" stroke="none" stroke-width="0"/>
<rect x="387.00" y="262.30" width="2.10" height="72.30" fill="none" stroke="#1e3866" stroke-width="0.6"/>
<line x1="388.04999999999995" y1="262.0" x2="388.04999999999995" y2="260.1" stroke="#4a4a4a" stroke-width="1.0" />
<line x1="386.84999999999997" y1="260.1" x2="389.24999999999994" y2="260.1" stroke="#333" stroke-width="1.1" />
<text transform="translate(388.10,337.9) rotate(-90)" font-size="7.8" text-anchor="end" fill="#1a1a1a">PAF</text>
<rect x="394.40" y="239.90" width="2.70" height="94.70" fill="#a50026" stroke="none" stroke-width="0"/>
<rect x="394.70" y="240.20" width="2.10" height="94.40" fill="none" stroke="#8c0020" stroke-width="0.6"/>
<line x1="395.75" y1="239.9" x2="395.75" y2="235.6" stroke="#4a4a4a" stroke-width="1.0" />
<line x1="394.55" y1="235.6" x2="396.95" y2="235.6" stroke="#333" stroke-width="1.1" />
<rect x="398.80" y="254.70" width="2.70" height="79.90" fill="#2d4a7b" stroke="none" stroke-width="0"/>
<rect x="399.10" y="255.00" width="2.10" height="79.60" fill="none" stroke="#1e3866" stroke-width="0.6"/>
<line x1="400.15" y1="254.7" x2="400.15" y2="244.9" stroke="#4a4a4a" stroke-width="1.0" />
<line x1="398.95" y1="244.9" x2="401.34999999999997" y2="244.9" stroke="#333" stroke-width="1.1" />
<text transform="translate(400.20,337.9) rotate(-90)" font-size="7.8" text-anchor="end" fill="#1a1a1a">C5a</text>
<rect x="406.50" y="236.50" width="2.70" height="98.10" fill="#a50026" stroke="none" stroke-width="0"/>
<rect x="406.80" y="236.80" width="2.10" height="97.80" fill="none" stroke="#8c0020" stroke-width="0.6"/>
<line x1="407.85" y1="236.5" x2="407.85" y2="230.5" stroke="#4a4a4a" stroke-width="1.0" />
<line x1="406.65000000000003" y1="230.5" x2="409.05" y2="230.5" stroke="#333" stroke-width="1.1" />
<rect x="410.90" y="255.10" width="2.70" height="79.50" fill="#2d4a7b" stroke="none" stroke-width="0"/>
<rect x="411.20" y="255.40" width="2.10" height="79.20" fill="none" stroke="#1e3866" stroke-width="0.6"/>
<line x1="412.25" y1="255.1" x2="412.25" y2="244.0" stroke="#4a4a4a" stroke-width="1.0" />
<line x1="411.05" y1="244.0" x2="413.45" y2="244.0" stroke="#333" stroke-width="1.1" />
<text transform="translate(412.30,337.9) rotate(-90)" font-size="7.8" text-anchor="end" fill="#1a1a1a">IL-8</text>
<rect x="430.70" y="242.50" width="2.70" height="92.10" fill="#a50026" stroke="none" stroke-width="0"/>
<rect x="431.00" y="242.80" width="2.10" height="91.80" fill="none" stroke="#8c0020" stroke-width="0.6"/>
<line x1="432.05000000000007" y1="242.5" x2="432.05000000000007" y2="240.0" stroke="#4a4a4a" stroke-width="1.0" />
<line x1="430.8500000000001" y1="240.0" x2="433.25000000000006" y2="240.0" stroke="#333" stroke-width="1.1" />
<rect x="435.10" y="310.00" width="2.70" height="24.60" fill="#2d4a7b" stroke="none" stroke-width="0"/>
<rect x="435.40" y="310.30" width="2.10" height="24.30" fill="none" stroke="#1e3866" stroke-width="0.6"/>
<line x1="436.45000000000005" y1="310.0" x2="436.45000000000005" y2="303.0" stroke="#4a4a4a" stroke-width="1.0" />
<line x1="435.25000000000006" y1="303.0" x2="437.65000000000003" y2="303.0" stroke="#333" stroke-width="1.1" />
<circle cx="430.30" cy="233.9" r="0.95" fill="#111"/>
<circle cx="433.30" cy="233.9" r="0.95" fill="#111"/>
<circle cx="436.30" cy="233.9" r="0.95" fill="#111"/>
<circle cx="439.30" cy="233.9" r="0.95" fill="#111"/>
<path d="M432.05,240.00 V237.70 H438.30" fill="none" stroke="#444" stroke-width="0.9"/>
<text transform="translate(436.50,337.9) rotate(-90)" font-size="7.8" text-anchor="end" fill="#1a1a1a">FSL-1</text>
<rect x="442.80" y="258.00" width="2.70" height="76.60" fill="#a50026" stroke="none" stroke-width="0"/>
<rect x="443.10" y="258.30" width="2.10" height="76.30" fill="none" stroke="#8c0020" stroke-width="0.6"/>
<line x1="444.15" y1="258.0" x2="444.15" y2="255.5" stroke="#4a4a4a" stroke-width="1.0" />
<line x1="442.95" y1="255.5" x2="445.34999999999997" y2="255.5" stroke="#333" stroke-width="1.1" />
<rect x="447.20" y="308.70" width="2.70" height="25.90" fill="#2d4a7b" stroke="none" stroke-width="0"/>
<rect x="447.50" y="309.00" width="2.10" height="25.60" fill="none" stroke="#1e3866" stroke-width="0.6"/>
<line x1="448.54999999999995" y1="308.7" x2="448.54999999999995" y2="303.0" stroke="#4a4a4a" stroke-width="1.0" />
<line x1="447.34999999999997" y1="303.0" x2="449.74999999999994" y2="303.0" stroke="#333" stroke-width="1.1" />
<circle cx="442.40" cy="248.6" r="0.95" fill="#111"/>
<circle cx="445.40" cy="248.6" r="0.95" fill="#111"/>
<circle cx="448.40" cy="248.6" r="0.95" fill="#111"/>
<circle cx="451.40" cy="248.6" r="0.95" fill="#111"/>
<path d="M444.15,255.50 V252.70 H450.40" fill="none" stroke="#444" stroke-width="0.9"/>
<text transform="translate(448.60,337.9) rotate(-90)" font-size="7.8" text-anchor="end" fill="#1a1a1a">LPS</text>
<rect x="454.90" y="259.30" width="2.70" height="75.30" fill="#a50026" stroke="none" stroke-width="0"/>
<rect x="455.20" y="259.60" width="2.10" height="75.00" fill="none" stroke="#8c0020" stroke-width="0.6"/>
<line x1="456.25" y1="259.3" x2="456.25" y2="257.5" stroke="#4a4a4a" stroke-width="1.0" />
<line x1="455.05" y1="257.5" x2="457.45" y2="257.5" stroke="#333" stroke-width="1.1" />
<rect x="459.30" y="307.70" width="2.70" height="26.90" fill="#2d4a7b" stroke="none" stroke-width="0"/>
<rect x="459.60" y="308.00" width="2.10" height="26.60" fill="none" stroke="#1e3866" stroke-width="0.6"/>
<line x1="460.65" y1="307.7" x2="460.65" y2="304.6" stroke="#4a4a4a" stroke-width="1.0" />
<line x1="459.45" y1="304.6" x2="461.84999999999997" y2="304.6" stroke="#333" stroke-width="1.1" />
<circle cx="457.50" cy="251.6" r="0.95" fill="#111"/>
<circle cx="460.50" cy="251.6" r="0.95" fill="#111"/>
<path d="M456.25,257.50 V255.50 H462.50" fill="none" stroke="#444" stroke-width="0.9"/>
<text transform="translate(460.70,337.9) rotate(-90)" font-size="7.8" text-anchor="end" fill="#1a1a1a">ODN</text>
<rect x="479.10" y="256.10" width="2.70" height="78.50" fill="#a50026" stroke="none" stroke-width="0"/>
<rect x="479.40" y="256.40" width="2.10" height="78.20" fill="none" stroke="#8c0020" stroke-width="0.6"/>
<line x1="480.45000000000005" y1="256.1" x2="480.45000000000005" y2="254.0" stroke="#4a4a4a" stroke-width="1.0" />
<line x1="479.25000000000006" y1="254.0" x2="481.65000000000003" y2="254.0" stroke="#333" stroke-width="1.1" />
<rect x="483.50" y="314.00" width="2.70" height="20.60" fill="#2d4a7b" stroke="none" stroke-width="0"/>
<rect x="483.80" y="314.30" width="2.10" height="20.30" fill="none" stroke="#1e3866" stroke-width="0.6"/>
<line x1="484.85" y1="314.0" x2="484.85" y2="310.0" stroke="#4a4a4a" stroke-width="1.0" />
<line x1="483.65000000000003" y1="310.0" x2="486.05" y2="310.0" stroke="#333" stroke-width="1.1" />
<circle cx="478.70" cy="247.3" r="0.95" fill="#111"/>
<circle cx="481.70" cy="247.3" r="0.95" fill="#111"/>
<circle cx="484.70" cy="247.3" r="0.95" fill="#111"/>
<circle cx="487.70" cy="247.3" r="0.95" fill="#111"/>
<path d="M480.45,254.00 V251.80 H486.70" fill="none" stroke="#444" stroke-width="0.9"/>
<text transform="translate(484.90,337.9) rotate(-90)" font-size="7.8" text-anchor="end" fill="#1a1a1a">TNF &#945;</text>
<rect x="491.20" y="256.60" width="2.70" height="78.00" fill="#a50026" stroke="none" stroke-width="0"/>
<rect x="491.50" y="256.90" width="2.10" height="77.70" fill="none" stroke="#8c0020" stroke-width="0.6"/>
<line x1="492.55000000000007" y1="256.6" x2="492.55000000000007" y2="254.4" stroke="#4a4a4a" stroke-width="1.0" />
<line x1="491.3500000000001" y1="254.4" x2="493.75000000000006" y2="254.4" stroke="#333" stroke-width="1.1" />
<rect x="495.60" y="277.00" width="2.70" height="57.60" fill="#2d4a7b" stroke="none" stroke-width="0"/>
<rect x="495.90" y="277.30" width="2.10" height="57.30" fill="none" stroke="#1e3866" stroke-width="0.6"/>
<line x1="496.95000000000005" y1="277.0" x2="496.95000000000005" y2="264.4" stroke="#4a4a4a" stroke-width="1.0" />
<line x1="495.75000000000006" y1="264.4" x2="498.15000000000003" y2="264.4" stroke="#333" stroke-width="1.1" />
<text transform="translate(497.00,337.9) rotate(-90)" font-size="7.8" text-anchor="end" fill="#1a1a1a">G-CSF</text>
<rect x="503.30" y="253.40" width="2.70" height="81.20" fill="#a50026" stroke="none" stroke-width="0"/>
<rect x="503.60" y="253.70" width="2.10" height="80.90" fill="none" stroke="#8c0020" stroke-width="0.6"/>
<line x1="504.65" y1="253.4" x2="504.65" y2="249.6" stroke="#4a4a4a" stroke-width="1.0" />
<line x1="503.45" y1="249.6" x2="505.84999999999997" y2="249.6" stroke="#333" stroke-width="1.1" />
<rect x="507.70" y="258.00" width="2.70" height="76.60" fill="#2d4a7b" stroke="none" stroke-width="0"/>
<rect x="508.00" y="258.30" width="2.10" height="76.30" fill="none" stroke="#1e3866" stroke-width="0.6"/>
<line x1="509.04999999999995" y1="258.0" x2="509.04999999999995" y2="253.1" stroke="#4a4a4a" stroke-width="1.0" />
<line x1="507.84999999999997" y1="253.1" x2="510.24999999999994" y2="253.1" stroke="#333" stroke-width="1.1" />
<text transform="translate(509.10,337.9) rotate(-90)" font-size="7.8" text-anchor="end" fill="#1a1a1a">GM-CSF</text>
<rect x="363.20" y="205.50" width="5.60" height="5.40" fill="#a50026" stroke="none" stroke-width="0"/>
<rect x="363.20" y="215.60" width="5.60" height="5.30" fill="#2d4a7b" stroke="none" stroke-width="0"/>
<text x="371.0" y="210.6" font-size="7.4" text-anchor="start" fill="#1a1a1a"><tspan font-size="8.88">&#945;</tspan><tspan dx="0.3">CD3/28</tspan></text>
<text x="371.0" y="220.8" font-size="7.4" text-anchor="start" fill="#1a1a1a"><tspan font-size="8.88">&#945;</tspan><tspan dx="0.3">CD3/28 + Neutrophils</tspan></text>
<path d="M369.3,371.3 L369.3,374.3 L413.4,374.3 L413.4,371.3" fill="none" stroke="#222" stroke-width="1.3"/>
<text x="391.35" y="383.8" font-size="7.8" text-anchor="middle" font-weight="normal" fill="#1a1a1a" >GPCRs</text>
<path d="M430.4,371.3 L430.4,374.3 L461.9,374.3 L461.9,371.3" fill="none" stroke="#222" stroke-width="1.3"/>
<text x="446.15" y="383.8" font-size="7.8" text-anchor="middle" font-weight="normal" fill="#1a1a1a" >TLRs</text>
<path d="M478.6,371.3 L478.6,374.3 L511.3,374.3 L511.3,371.3" fill="none" stroke="#222" stroke-width="1.3"/>
<text x="494.95000000000005" y="383.8" font-size="7.8" text-anchor="middle" font-weight="normal" fill="#1a1a1a" >CRs</text>
<text transform="translate(321.5,269.1) rotate(-90)" font-size="8.6" text-anchor="middle" fill="#1a1a1a" stroke="#1a1a1a" stroke-width="0.38" textLength="82" lengthAdjust="spacingAndGlyphs">Relative precursor frequency</text>
<text transform="translate(332.0,269.6) rotate(-90)" font-size="8.6" text-anchor="middle" fill="#1a1a1a" stroke="#1a1a1a" stroke-width="0.38" textLength="49" lengthAdjust="spacingAndGlyphs">CD4<tspan font-size="5" dy="-3">+</tspan><tspan dy="3"> T cells (%)</tspan></text>
</svg>
</body></html>
